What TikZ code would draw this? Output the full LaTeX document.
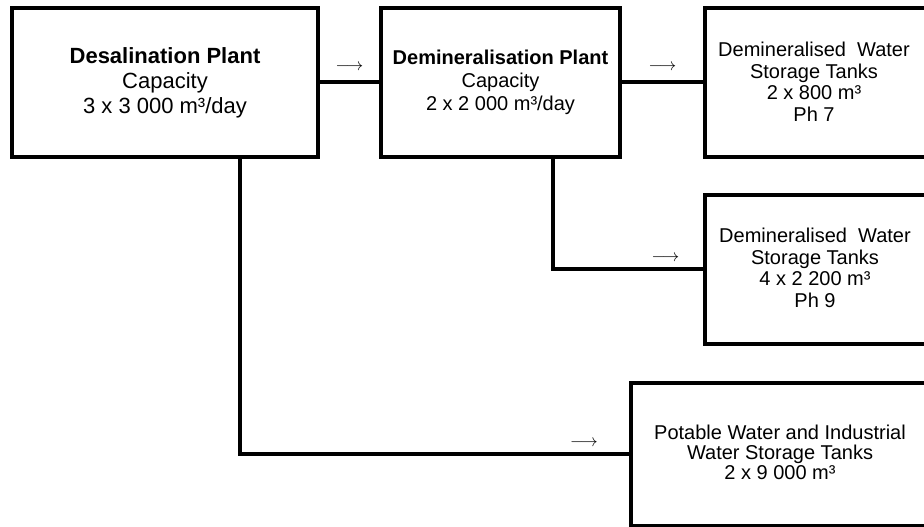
\documentclass[tikz,border=0pt]{standalone}
\usepackage{fontspec}
\setmainfont{Liberation Sans}

\begin{document}
\begin{tikzpicture}[line join=miter,
  box/.style={draw,rectangle,line width=4bp,outer sep=0pt,inner sep=0pt,anchor=north west},
  link/.style={line width=4bp},
  lbl/.style={align=center,inner sep=0pt,font=\fontsize{20bp}{21.5bp}\selectfont},
  flow/.style={inner sep=0pt,font=\fontsize{18.5bp}{20bp}\selectfont}]
\useasboundingbox (0bp,0bp) rectangle (924bp,527bp);
\clip (0bp,0bp) rectangle (924bp,527bp);
%% plants
  \node (desal) at (12bp,519bp) [box,minimum width=306bp,minimum height=149bp,align=center,font=\fontsize{22bp}{25bp}\selectfont] {\textbf{Desalination Plant}\\Capacity\\3 x 3 000 m³/day};
  \node (deminplant) at (381bp,519bp) [box,minimum width=239bp,minimum height=149bp,align=center,font=\fontsize{20bp}{23bp}\selectfont] {\textbf{Demineralisation Plant}\\Capacity\\2 x 2 000 m³/day};
%% tanks, cut off at the right edge
  \node (tank7) at (705bp,519bp) [box,minimum width=300bp,minimum height=149bp] {};
  \node (tank9) at (705bp,332bp) [box,minimum width=300bp,minimum height=149bp] {};
  \node (potable) at (631bp,144bp) [box,minimum width=350bp,minimum height=143bp] {};
  \node (tank7txt) at (814bp,445bp) [lbl] {Demineralised~ Water\\Storage Tanks\\2 x 800 m³\\Ph 7};
  \node (tank9txt) at (815bp,259bp) [lbl] {Demineralised~ Water\\Storage Tanks\\4 x 2 200 m³\\Ph 9};
  \node (potabletxt) at (780bp,75bp) [lbl,font=\fontsize{20bp}{20bp}\selectfont] {Potable Water and Industrial\\Water Storage Tanks\\2 x 9 000 m³};
%% pipes
  \draw [link] (desal.east) -- node[flow,yshift=15bp] {$\longrightarrow$} (deminplant.west);
  \draw [link] (deminplant.east) -- node[flow,yshift=15bp] {$\longrightarrow$} (tank7.west);
  \draw [link] ([xshift=52.5bp]deminplant.south) |- node[flow,pos=0.87,yshift=11bp] {$\longrightarrow$} (tank9.west);
  \draw [link] ([xshift=75bp]desal.south) |- node[flow,pos=0.94,yshift=11bp] {$\longrightarrow$} (potable.west);
%
\end{tikzpicture}
\end{document}
